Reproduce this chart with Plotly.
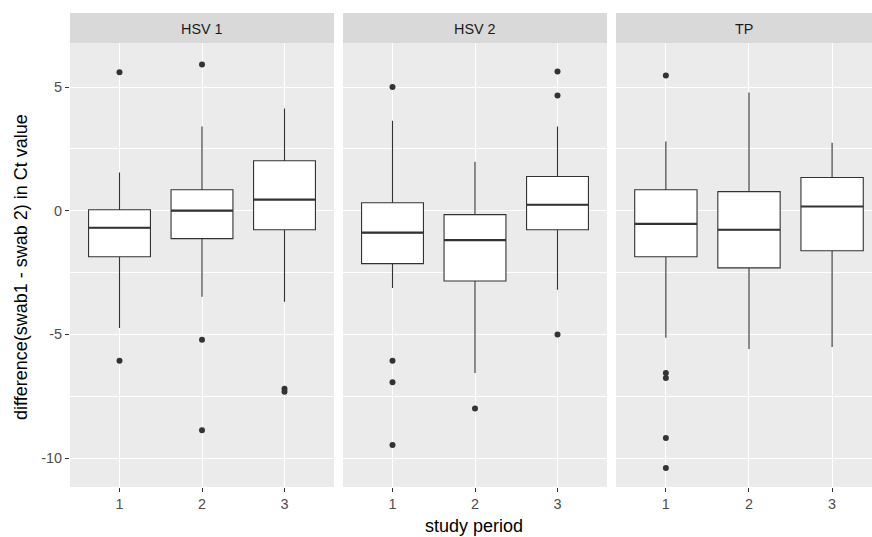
import plotly.graph_objects as go

# ---- data ----
panels = ["HSV 1", "HSV 2", "TP"]
periods = [1, 2, 3]

q1_hsv1 = [-1.86, -1.13, -0.77]
med_hsv1 = [-0.69, 0.0, 0.45]
q3_hsv1 = [0.04, 0.85, 2.02]
lo_hsv1 = [-4.74, -3.48, -3.68]
hi_hsv1 = [1.54, 3.40, 4.13]
out_x_hsv1 = [1, 1, 2, 2, 2, 3, 3]
out_y_hsv1 = [5.6, -6.07, 5.91, -5.22, -8.88, -7.2, -7.32]

q1_hsv2 = [-2.14, -2.84, -0.77]
med_hsv2 = [-0.89, -1.19, 0.24]
q3_hsv2 = [0.32, -0.16, 1.38]
lo_hsv2 = [-3.12, -6.56, -3.2]
hi_hsv2 = [3.64, 1.98, 3.40]
out_x_hsv2 = [1, 1, 1, 1, 2, 3, 3, 3]
out_y_hsv2 = [5.0, -6.07, -6.94, -9.47, -8.0, 5.63, 4.66, -5.0]

q1_tp = [-1.86, -2.31, -1.62]
med_tp = [-0.53, -0.77, 0.17]
q3_tp = [0.85, 0.77, 1.34]
lo_tp = [-5.14, -5.59, -5.51]
hi_tp = [2.8, 4.78, 2.75]
out_x_tp = [1, 1, 1, 1, 1]
out_y_tp = [5.47, -6.56, -6.76, -9.19, -10.4]

y_ticks = [-10, -5, 0, 5]
y_tick_labels = ["-10", "-5", "0", "5"]

# ---- styling ----
FONT = "Liberation Sans, Arial, sans-serif"
DARK = "#333333"
BOX_W = 0.75
TICK_SIZE = 14.4
TITLE_SIZE = 18

stats = [
    (q1_hsv1, med_hsv1, q3_hsv1, lo_hsv1, hi_hsv1, out_x_hsv1, out_y_hsv1),
    (q1_hsv2, med_hsv2, q3_hsv2, lo_hsv2, hi_hsv2, out_x_hsv2, out_y_hsv2),
    (q1_tp, med_tp, q3_tp, lo_tp, hi_tp, out_x_tp, out_y_tp),
]

W, H = 872, 537
ML, MR, MT, MB = 70, 0, 13, 50
pw = W - ML - MR
ph = H - MT - MB
def px_x(p):
    return (p - ML) / pw
def px_y(p):
    return (H - MB - p) / ph
panel_px = [(70, 334), (343, 607), (616, 872)]
domains = [[px_x(a), px_x(b)] for a, b in panel_px]
strip_bottom = px_y(43)

fig = go.Figure()
for i, (q1, med, q3, lo, hi, ox, oy) in enumerate(stats):
    xa = "x" if i == 0 else f"x{i+1}"
    ya = "y" if i == 0 else f"y{i+1}"
    fig.add_trace(go.Box(
        x=periods, q1=q1, median=med, q3=q3, lowerfence=lo, upperfence=hi,
        width=BOX_W, whiskerwidth=0, boxpoints=False,
        fillcolor="white", line=dict(color=DARK, width=1.1),
        xaxis=xa, yaxis=ya, showlegend=False, hoverinfo="skip"))
    # thicker median bars (ggplot fatten)
    mx, my = [], []
    for p, m in zip(periods, med):
        mx += [p - BOX_W / 2, p + BOX_W / 2, None]
        my += [m, m, None]
    fig.add_trace(go.Scatter(x=mx, y=my, mode="lines",
                             line=dict(color=DARK, width=2.2),
                             xaxis=xa, yaxis=ya, showlegend=False, hoverinfo="skip"))
    fig.add_trace(go.Scatter(x=ox, y=oy, mode="markers",
                             marker=dict(color=DARK, size=6),
                             xaxis=xa, yaxis=ya, showlegend=False, hoverinfo="skip"))

layout = dict(
    width=W, height=H,
    margin=dict(l=ML, r=MR, t=MT, b=MB),
    paper_bgcolor="white", plot_bgcolor="#ebebeb",
    font=dict(family=FONT, color="#4d4d4d", size=TICK_SIZE),
    showlegend=False,
)
x_ranges = [[0.4, 3.6], [0.4, 3.6], [0.4, 3.48]]
for i in range(3):
    sfx = "" if i == 0 else str(i + 1)
    layout["xaxis" + sfx] = dict(
        domain=domains[i], range=x_ranges[i], anchor="y" + sfx,
        tickvals=periods, ticktext=[str(p) for p in periods],
        ticks="outside", ticklen=4, tickwidth=1.1, tickcolor=DARK,
        tickfont=dict(size=TICK_SIZE, color="#4d4d4d"),
        showgrid=True, gridcolor="white", gridwidth=1.1,
        zeroline=False, showline=False, fixedrange=True)
    layout["yaxis" + sfx] = dict(
        domain=[0, strip_bottom], range=[-11.17, 6.78], anchor="x" + sfx,
        tickvals=y_ticks, ticktext=y_tick_labels,
        ticks="outside" if i == 0 else "", ticklen=4, tickwidth=1.1, tickcolor=DARK,
        showticklabels=(i == 0), tickfont=dict(size=TICK_SIZE, color="#4d4d4d"),
        showgrid=True, gridcolor="white", gridwidth=1.1,
        minor=dict(tickvals=[-7.5, -2.5, 2.5], showgrid=True,
                   gridcolor="white", gridwidth=0.55, ticks=""),
        zeroline=False, showline=False, fixedrange=True)
    if i > 0:
        layout["yaxis" + sfx]["matches"] = "y"

shapes = []
annotations = []
for i, name in enumerate(panels):
    shapes.append(dict(type="rect", xref="paper", yref="paper",
                       x0=domains[i][0], x1=domains[i][1], y0=strip_bottom, y1=1,
                       fillcolor="#d9d9d9", line=dict(width=0), layer="below"))
    annotations.append(dict(text=name, xref="paper", yref="paper",
                            x=(domains[i][0] + domains[i][1]) / 2,
                            y=px_y(29), showarrow=False,
                            xanchor="center", yanchor="middle",
                            font=dict(family=FONT, size=TICK_SIZE, color="#1a1a1a")))
annotations.append(dict(text="study period", xref="paper", yref="paper",
                        x=px_x(474), y=px_y(526), showarrow=False,
                        xanchor="center", yanchor="middle",
                        font=dict(family=FONT, size=TITLE_SIZE, color="black")))
annotations.append(dict(text="difference(swab1 - swab 2) in Ct value",
                        xref="paper", yref="paper",
                        x=px_x(21), y=px_y(267), showarrow=False,
                        textangle=-90, xanchor="center", yanchor="middle",
                        font=dict(family=FONT, size=TITLE_SIZE, color="black")))
layout["shapes"] = shapes
layout["annotations"] = annotations
fig.update_layout(**layout)
fig.write_html("out.html", config={"displayModeBar": False},
               post_script="document.body.style.margin='0';document.body.style.overflow='hidden';")
